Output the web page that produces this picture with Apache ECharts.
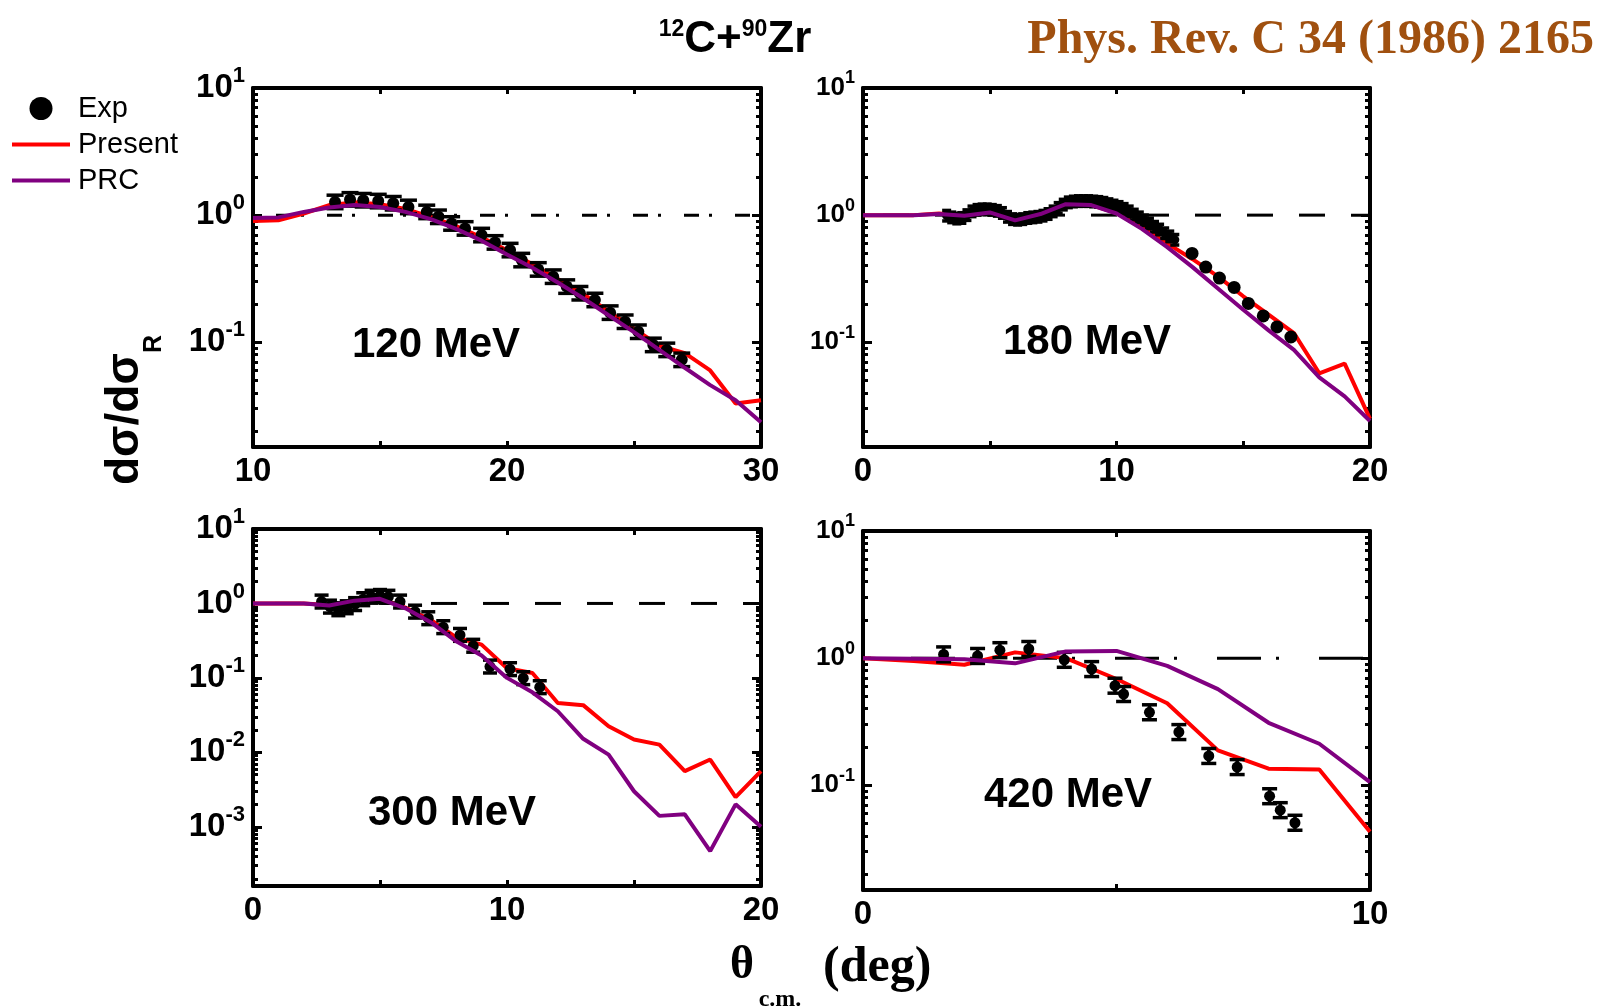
<!DOCTYPE html>
<html>
<head>
<meta charset="utf-8">
<script src="https://cdn.jsdelivr.net/npm/echarts@6/dist/echarts.min.js"></script>
<style>
html,body{margin:0;padding:0;background:#fff;}
#chart{width:1604px;height:1007px;}
</style>
</head>
<body>
<div id="chart"></div>
<script>
// ---------------- DATA ----------------
// 120 MeV
const theta120   = [10,11,12,13,14,15,16,17,18,19,20,21,22,23,24,25,26,27,28,29,30];
const present120 = [0.90,0.91,1.03,1.20,1.26,1.22,1.12,0.97,0.82,0.67,0.53,0.41,0.315,0.24,0.175,0.128,0.094,0.082,0.060,0.033,0.035];
const prc120     = [0.95,0.96,1.06,1.15,1.20,1.16,1.06,0.93,0.78,0.63,0.49,0.385,0.295,0.222,0.163,0.12,0.087,0.063,0.046,0.035,0.0235];
const exp120x = [13.23,13.82,14.34,14.93,15.52,16.12,16.84,17.30,17.82,18.35,19.00,19.53,20.12,20.58,21.23,21.82,22.35,22.87,23.46,24.06,24.65,25.17,25.76,26.29,26.88];
const exp120y = [1.27,1.33,1.31,1.29,1.24,1.16,1.06,0.97,0.86,0.786,0.697,0.61,0.531,0.443,0.374,0.328,0.274,0.243,0.215,0.171,0.145,0.121,0.0953,0.0871,0.0727];

// 180 MeV
const theta180   = [0,1,2,3,4,5,6,7,8,9,10,11,12,13,14,15,16,17,18,19,20];
const present180 = [1.0,1.0,1.0,1.03,0.99,1.05,0.92,1.02,1.22,1.2,1.04,0.81,0.6,0.45,0.33,0.23,0.165,0.118,0.057,0.068,0.025];
const prc180     = [1.0,1.0,1.0,1.02,0.99,1.05,0.91,1.02,1.22,1.2,1.03,0.78,0.56,0.39,0.265,0.18,0.124,0.087,0.053,0.0375,0.024];
const exp180ax = [3.3,3.5,3.7,3.9,4.1,4.3,4.5,4.7,4.9,5.1,5.3,5.5,5.7,5.9,6.1,6.3,6.5,6.7,6.9,7.1,7.3,7.5,7.7,7.9,8.1,8.3,8.5,8.7,8.9,9.1,9.3,9.5,9.7,9.9,10.1,10.3,10.5,10.7,10.9,11.1,11.3,11.5,11.7,11.9,12.1,12.3];
const exp180ay = [0.99,0.96,0.94,0.95,1.0,1.07,1.1,1.11,1.11,1.1,1.08,1.04,0.97,0.93,0.92,0.93,0.95,0.96,0.97,0.99,1.02,1.07,1.14,1.21,1.26,1.28,1.29,1.29,1.29,1.28,1.27,1.25,1.22,1.19,1.16,1.12,1.07,1.01,0.96,0.91,0.86,0.81,0.77,0.72,0.68,0.64];
const exp180bx = [12.98,13.52,14.06,14.64,15.2,15.79,16.33,16.88];
const exp180by = [0.5,0.39,0.32,0.27,0.202,0.161,0.132,0.11];

// 300 MeV
const theta300   = [0,1,2,3,4,5,6,7,8,9,10,11,12,13,14,15,16,17,18,19,20];
const present300 = [1.0,1.0,1.0,0.95,1.1,1.17,0.88,0.6,0.35,0.28,0.135,0.116,0.046,0.043,0.0224,0.0149,0.0127,0.0056,0.008,0.0025,0.0056];
const prc300     = [1.0,1.0,1.0,0.94,1.09,1.155,0.86,0.56,0.31,0.2,0.1,0.064,0.0356,0.0152,0.0093,0.003,0.0014,0.00147,0.00047,0.002,0.001];
const exp300x = [2.7,3.03,3.36,3.69,4.02,4.34,4.67,5.0,5.33,5.79,6.38,6.9,7.49,8.15,8.67,9.33,10.12,10.64,11.29];
const exp300y = [1.06,0.906,0.836,0.889,0.98,1.14,1.23,1.26,1.23,1.06,0.776,0.633,0.48,0.378,0.27,0.142,0.131,0.099,0.075];

// 420 MeV
const theta420   = [0,1,2,3,4,5,6,7,8,9,10];
const present420 = [1.0,0.95,0.887,1.11,1.0,0.685,0.442,0.188,0.135,0.133,0.043];
const prc420     = [1.0,0.99,0.98,0.91,1.13,1.14,0.87,0.57,0.31,0.212,0.106];
const exp420x = [1.59,2.26,2.7,3.27,3.97,4.51,4.97,5.14,5.65,6.23,6.82,7.38,8.02,8.23,8.52];
const exp420y = [1.07,1.04,1.155,1.18,0.97,0.82,0.607,0.522,0.375,0.262,0.17,0.139,0.082,0.0637,0.0507];

// legend names
const legendNames = ['Exp','Present','PRC'];

// ---------------- STYLE / LAYOUT ----------------
const FONT = '"Liberation Sans", Arial, sans-serif';
const SERIF = '"Liberation Serif", "Times New Roman", serif';
const RED = '#FF0000';
const PURPLE = '#800080';

const zip = (a, b) => a.map((v, i) => [v, b[i]]);

const panels = [
  { box:{left:253, top:88,  width:508, height:359}, xmin:10, xmax:30, ymin:0.015,
    theta:theta120, present:present120, prc:prc120,
    exps:[{x:exp120x, y:exp120y, r:6, e:0.13, cap:17}],
    ref:{type:[15,10,3,23], offset:28}, big:true },
  { box:{left:863, top:88,  width:507, height:359}, xmin:0, xmax:20, ymin:0.015,
    theta:theta180, present:present180, prc:prc180,
    exps:[{x:exp180ax, y:exp180ay, r:4.5, e:0.1, cap:9},{x:exp180bx, y:exp180by, r:6.5, e:0, cap:0}],
    ref:{type:[26,26], offset:32}, big:false },
  { box:{left:253, top:529, width:508, height:357}, xmin:0, xmax:20, ymin:1.6e-4,
    theta:theta300, present:present300, prc:prc300,
    exps:[{x:exp300x, y:exp300y, r:5.5, e:0.22, cap:14}],
    ref:{type:[26,26], offset:30}, big:true },
  { box:{left:863, top:531, width:507, height:359}, xmin:0, xmax:10, ymin:0.015,
    theta:theta420, present:present420, prc:prc420,
    exps:[{x:exp420x, y:exp420y, r:5.5, e:0.145, cap:15}],
    ref:{type:[44,15,3,40], offset:54}, big:false }
];

const richBig = {
  b:{fontSize:33, fontWeight:'bold', fontFamily:FONT, color:'#000', verticalAlign:'middle'},
  s:{fontSize:22, fontWeight:'bold', fontFamily:FONT, color:'#000', verticalAlign:'middle', padding:[0,0,24,0]}
};
const richSmall = {
  b:{fontSize:26, fontWeight:'bold', fontFamily:FONT, color:'#000', verticalAlign:'middle'},
  s:{fontSize:18, fontWeight:'bold', fontFamily:FONT, color:'#000', verticalAlign:'middle', padding:[0,0,19,0]}
};

function logFmt(v) {
  const e = Math.log10(v);
  const r = Math.round(e);
  if (Math.abs(e - r) > 1e-6) return '';
  return '{b|10}{s|' + r + '}';
}

function xAxisDef(g, p, pos, showLabel) {
  return {
    type:'value', gridIndex:g, position:pos, min:p.xmin, max:p.xmax, interval:5,
    axisLine:{show:true, onZero:false, lineStyle:{color:'#000', width:4}},
    axisTick:{show:true, inside:true, length:6, lineStyle:{color:'#000', width:3}},
    minorTick:{show:false}, splitLine:{show:false},
    axisLabel:{show:showLabel, margin:8, fontSize:33, fontWeight:'bold', fontFamily:FONT, color:'#000',
      formatter:function(v){ return (Math.abs(v % 10) < 1e-9) ? String(v) : ''; }}
  };
}
function yAxisDef(g, p, pos, showLabel) {
  return {
    type:'log', logBase:10, gridIndex:g, position:pos, min:p.ymin, max:10,
    axisLine:{show:true, onZero:false, lineStyle:{color:'#000', width:4}},
    axisTick:{show:true, inside:true, length:9, lineStyle:{color:'#000', width:3}},
    minorTick:{show:true, splitNumber:9, length:5, lineStyle:{color:'#000', width:3}},
    splitLine:{show:false}, minorSplitLine:{show:false},
    axisLabel:{show:showLabel, margin:8, formatter:logFmt, rich: p.big ? richBig : richSmall}
  };
}

function expRender(r, e, cap) {
  return function(params, api) {
    const x = api.value(0), y = api.value(1);
    const c = api.coord([x, y]);
    const children = [];
    if (e > 0) {
      const t = api.coord([x, y * (1 + e)]);
      const b = api.coord([x, y / (1 + e)]);
      children.push({type:'line', shape:{x1:c[0], y1:t[1], x2:c[0], y2:b[1]}, style:{stroke:'#000', lineWidth:3.5}});
      children.push({type:'line', shape:{x1:c[0]-cap/2, y1:t[1], x2:c[0]+cap/2, y2:t[1]}, style:{stroke:'#000', lineWidth:3.5}});
      children.push({type:'line', shape:{x1:c[0]-cap/2, y1:b[1], x2:c[0]+cap/2, y2:b[1]}, style:{stroke:'#000', lineWidth:3.5}});
    }
    children.push({type:'circle', shape:{cx:c[0], cy:c[1], r:r}, style:{fill:'#000'}});
    return {type:'group', children:children};
  };
}

const grids = [], xAxes = [], yAxes = [], series = [];
panels.forEach(function(p, g) {
  grids.push(Object.assign({containLabel:false, outerBoundsMode:'none'}, p.box));
  xAxes.push(xAxisDef(g, p, 'bottom', true));
  xAxes.push(xAxisDef(g, p, 'top', false));
  yAxes.push(yAxisDef(g, p, 'left', true));
  yAxes.push(yAxisDef(g, p, 'right', false));
  const xi = 2 * g, yi = 2 * g;
  // reference line at ratio 1
  series.push({type:'line', name:'ref', xAxisIndex:xi, yAxisIndex:yi, z:1, silent:true,
    symbol:'none', data:[[p.xmin, 1], [p.xmax, 1]],
    lineStyle:{color:'#000', width:3, type:p.ref.type, dashOffset:p.ref.offset}});
  series.push({type:'line', name:'Present', xAxisIndex:xi, yAxisIndex:yi, z:3, symbol:'none', showSymbol:false,
    data:zip(p.theta, p.present), lineStyle:{color:RED, width:4}, itemStyle:{color:RED}});
  p.exps.forEach(function(d) {
    series.push({type:'custom', name:'Exp', xAxisIndex:xi, yAxisIndex:yi, z:4, clip:true,
      itemStyle:{color:'#000'}, encode:{x:0, y:1}, data:zip(d.x, d.y),
      renderItem:expRender(d.r, d.e, d.cap)});
  });
  series.push({type:'line', name:'PRC', xAxisIndex:xi, yAxisIndex:yi, z:5, symbol:'none', showSymbol:false,
    data:zip(p.theta, p.prc), lineStyle:{color:PURPLE, width:4}, itemStyle:{color:PURPLE}});
});

const panelLabels = [
  {text:'120 MeV', x:436, y:345},
  {text:'180 MeV', x:1087, y:342},
  {text:'300 MeV', x:452, y:813},
  {text:'420 MeV', x:1068, y:795}
];

const graphics = [];
panelLabels.forEach(function(l) {
  graphics.push({type:'text', x:l.x, y:l.y, z:10, style:{text:l.text, font:'bold 42px ' + FONT, fill:'#000', align:'center', verticalAlign:'middle'}});
});
graphics.push({type:'text', x:735, y:40, z:10, style:{
  text:'{s|12}{b|C+}{s|90}{b|Zr}', align:'center', verticalAlign:'middle',
  rich:{
    b:{fontSize:44, fontWeight:'bold', fontFamily:FONT, fill:'#000', verticalAlign:'middle'},
    s:{fontSize:23, fontWeight:'bold', fontFamily:FONT, fill:'#000', verticalAlign:'middle', padding:[0,0,20,0]}
  }}});
graphics.push({type:'text', x:1594, y:41, z:10, style:{
  text:'Phys. Rev. C 34 (1986) 2165', font:'bold 48px ' + SERIF, fill:'#A0500F', align:'right', verticalAlign:'middle'}});
graphics.push({type:'text', x:125, y:410, rotation:Math.PI/2, z:10, style:{
  text:'{m|dσ/dσ}{r|R}', align:'center', verticalAlign:'middle',
  rich:{
    m:{fontSize:46, fontWeight:'bold', fontFamily:FONT, fill:'#000', verticalAlign:'middle'},
    r:{fontSize:25, fontWeight:'bold', fontFamily:FONT, fill:'#000', verticalAlign:'middle', padding:[58,0,0,0]}
  }}});
graphics.push({type:'text', x:742, y:966, z:10, style:{text:'θ', font:'bold 46px ' + SERIF, fill:'#000', align:'center', verticalAlign:'middle'}});
graphics.push({type:'text', x:780, y:1000, z:10, style:{text:'c.m.', font:'bold 24px ' + SERIF, fill:'#000', align:'center', verticalAlign:'middle'}});
graphics.push({type:'text', x:823, y:968, z:10, style:{text:'(deg)', font:'bold 50px ' + SERIF, fill:'#000', align:'left', verticalAlign:'middle'}});

const option = {
  animation:false,
  backgroundColor:'#fff',
  textStyle:{fontFamily:FONT},
  legend:{
    show:true, orient:'vertical', left:12, top:94, padding:0, itemWidth:58, itemHeight:23, itemGap:7,
    selectedMode:false, symbolKeepAspect:true,
    textStyle:{fontSize:29, fontFamily:FONT, color:'#000', padding:[0,0,0,3]},
    data:[
      {name:legendNames[0], icon:'circle', itemStyle:{color:'#000'}},
      {name:legendNames[1], icon:'path://M0,0H58V4H0Z', itemStyle:{color:RED}},
      {name:legendNames[2], icon:'path://M0,0H58V4H0Z', itemStyle:{color:PURPLE}}
    ]
  },
  grid:grids,
  xAxis:xAxes,
  yAxis:yAxes,
  series:series,
  graphic:graphics
};

const chart = echarts.init(document.getElementById('chart'), null, {renderer:'canvas'});
chart.setOption(option);
</script>
</body>
</html>
